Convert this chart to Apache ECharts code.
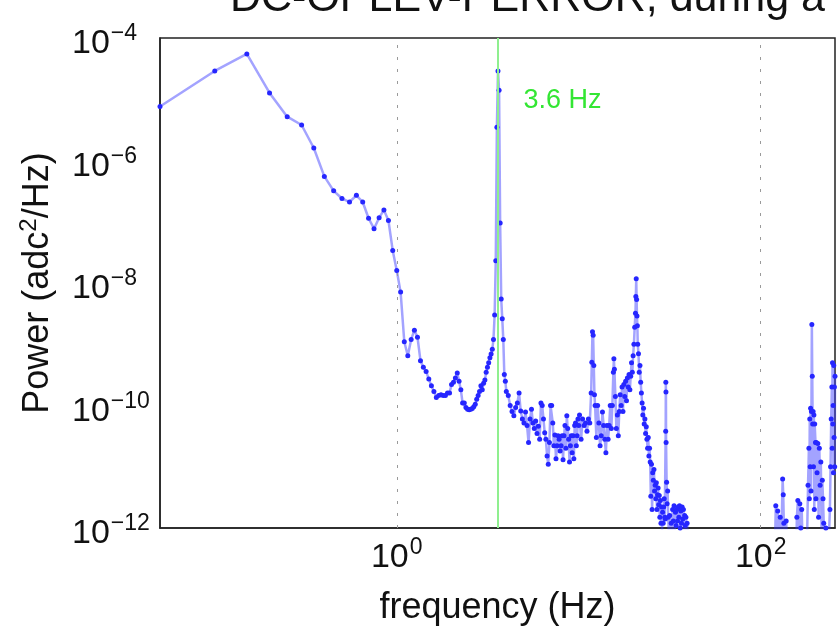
<!DOCTYPE html>
<html><head><meta charset="utf-8">
<script src="https://cdn.jsdelivr.net/npm/echarts@6/dist/echarts.min.js"></script>
<style>html,body{margin:0;padding:0;background:#fff}#c{width:838px;height:633px}</style>
</head><body><div id="c"></div>
<script>
const FONT = '"Liberation Sans", Arial, Helvetica, sans-serif';
const titleText = 'DC-OPLEV-PERROR, during a';
const xName = 'frequency (Hz)';
const yName = '{a|Power (adc}{s|2}{a|/Hz)}';
const peakFreq = 3.6;
const peakLabel = '3.6 Hz';
const xLabelExps = [0, 2];
const yLabelExps = [-12, -10, -8, -6, -4];
const xGrid = [1, 100];
const yGrid = [1e-10, 1e-8, 1e-6];

// 0.05 - 4.00 Hz
const seg1F = [0.05,0.10,0.15,0.20,0.25,0.30,0.35,0.40,0.45,0.50,
  0.55,0.60,0.65,0.70,0.75,0.80,0.85,0.90,0.95,1.00,
  1.05,1.10,1.15,1.20,1.25,1.30,1.35,1.40,1.45,1.50,
  1.55,1.60,1.65,1.70,1.75,1.80,1.85,1.90,1.95,2.00,
  2.05,2.10,2.15,2.20,2.25,2.30,2.35,2.40,2.45,2.50,
  2.55,2.60,2.65,2.70,2.75,2.80,2.85,2.90,2.95,3.00,
  3.05,3.10,3.15,3.20,3.25,3.30,3.35,3.40,3.45,3.50,
  3.55,3.60,3.65,3.70,3.75,3.80,3.85,3.90,3.95,4.00];
const seg1P = [7.6e-6,2.9e-5,5.5e-5,1.27e-5,5.2e-6,3.8e-6,1.6e-6,5.5e-7,3.2e-7,2.4e-7,
  2.1e-7,2.7e-7,2.1e-7,1.14e-7,7.7e-8,1.16e-7,1.56e-7,1.05e-7,3.4e-8,1.6e-8,
  7.1e-9,1.1e-9,6.5e-10,1.2e-9,1.7e-9,1.3e-9,5.4e-10,4.2e-10,3.6e-10,2.7e-10,
  2.1e-10,1.7e-10,1.35e-10,1.45e-10,1.5e-10,1.45e-10,1.45e-10,1.6e-10,1.6e-10,2.2e-10,
  2.4e-10,2.8e-10,3.4e-10,2.5e-10,1.8e-10,1.1e-10,1.1e-10,9.3e-11,8.7e-11,8.5e-11,
  8.7e-11,8.9e-11,9.5e-11,1.05e-10,1.26e-10,1.45e-10,1.7e-10,2.1e-10,1.8e-10,2.3e-10,
  2.6e-10,3.5e-10,4.2e-10,5.0e-10,6.0e-10,6.9e-10,8.3e-10,1.2e-9,3.0e-9,2.3e-8,
  3.5e-6,2.9e-5,1.4e-5,9.5e-8,5.5e-9,2.6e-9,1.2e-9,3.2e-10,2.5e-10,1.7e-10];

// 4.1 - 10.0 Hz
const seg2F = [4.1,4.2,4.3,4.4,4.5,4.6,4.7,4.8,4.9,5.0,
  5.1,5.2,5.3,5.4,5.5,5.6,5.7,5.8,5.9,6.0,
  6.1,6.2,6.3,6.4,6.5,6.6,6.7,6.8,6.9,7.0,
  7.1,7.2,7.3,7.4,7.5,7.6,7.7,7.8,7.9,8.0,
  8.1,8.2,8.3,8.4,8.5,8.6,8.7,8.8,8.9,9.0,
  9.1,9.2,9.3,9.4,9.5,9.6,9.7,9.8,9.9,10.0];
const seg2P = [1.45e-10,1.0e-10,8e-11,6.8e-11,9.3e-11,1.1e-10,1.6e-10,8.1e-11,6e-11,5.2e-11,
  7.8e-11,4.7e-11,2.5e-11,6e-11,8.7e-11,5.2e-11,4.2e-11,5.6e-11,3.5e-11,4.6e-11,
  2.8e-11,1.1e-10,1e-10,6e-11,3.6e-11,2.8e-11,1.5e-11,1.1e-11,2.5e-11,1e-10,
  1e-10,5.2e-11,2.2e-11,3.3e-11,1.35e-11,2.2e-11,3.2e-11,2.8e-11,1.8e-11,2.2e-11,
  3.2e-11,1.3e-11,3.2e-11,4.7e-11,2.0e-11,6.8e-11,4.2e-11,2.8e-11,1.2e-11,2.2e-11,
  3.2e-11,1.7e-11,3.2e-11,1.35e-11,4.7e-11,5.2e-11,2.2e-11,3.2e-11,6e-11,4.7e-11];

// 10.1 - 21.9 Hz
const seg3F = [10.1,10.3,10.5,10.7,10.9,
  11.1,11.3,11.5,11.7,11.8,11.9,
  12.0,12.1,12.2,12.3,12.5,12.7,12.9,
  13.1,13.3,13.5,13.7,13.9,
  14.1,14.3,14.5,14.7,14.9,
  15.1,15.3,15.5,15.6,15.7,15.9,
  16.1,16.3,16.5,16.7,16.9,
  17.1,17.3,17.5,17.7,17.9,
  18.1,18.3,18.5,18.7,18.9,
  19.1,19.3,19.5,19.7,19.9,
  20.1,20.3,20.5,20.6,20.7,20.8,20.9,
  21.0,21.1,21.3,21.5,21.7,21.9];
const seg3P = [7e-11,2.8e-11,6e-11,4.7e-11,5.2e-11,
  3.8e-11,6e-11,5.2e-11,1.6e-10,5.1e-10,1.6e-9,
  1.4e-9,4.5e-10,1.5e-10,1e-10,3e-11,1e-10,5.2e-11,
  2.2e-11,3.2e-11,7.8e-11,4.7e-11,2.8e-11,
  1.7e-11,4.7e-11,2.8e-11,4.7e-11,1e-10,
  4.2e-11,1.0e-10,3.5e-10,5.8e-10,3.9e-10,1.4e-10,
  4.2e-11,7e-11,3.2e-11,8e-11,1.5e-10,
  1.0e-10,2.0e-10,8e-11,2.2e-10,1.4e-10,
  2.5e-10,1.2e-10,2.8e-10,2.0e-10,3.2e-10,
  1.8e-10,3.0e-10,5.0e-10,3.5e-10,6.5e-10,
  1e-9,1.9e-9,3.2e-9,6e-9,1.17e-8,5.4e-9,2.9e-9,
  2e-9,1e-9,7e-10,3.5e-10,4.5e-10,2.4e-10];

// 22.1 - 42 Hz
const seg4F = [22.1,22.3,22.5,22.7,22.9,
  23.1,23.3,23.5,23.7,23.9,
  24.1,24.3,24.5,24.7,24.9,
  25.1,25.3,25.5,25.7,25.9,
  26.1,26.3,26.5,26.7,26.9,
  27.1,27.3,27.5,27.7,27.9,
  28.1,28.3,28.5,28.7,28.9,
  29.1,29.3,29.5,29.7,29.9,
  30.05,30.1,30.15,30.2,30.4,30.6,30.8,
  31.0,31.3,31.6,31.9,
  32.2,32.5,32.8,
  33.1,33.4,33.7,
  34.0,34.3,34.6,34.9,
  35.2,35.5,35.8,
  36.1,36.4,36.7,
  37.0,37.3,37.6,37.9,
  38.2,38.5,38.8,
  39.1,39.4,
  40.0,42.0];
const seg4P = [1.6e-10,1.1e-10,7e-11,9e-11,5e-11,
  6e-11,3.5e-11,4.5e-11,2.8e-11,2e-11,
  3e-11,1.5e-11,2e-11,1.2e-11,3.3e-12,
  1.1e-11,2e-12,8e-12,6e-12,9e-12,
  4e-12,5e-12,3e-12,5.5e-12,2e-12,
  3.5e-12,4.5e-12,2.4e-12,3.4e-12,1.5e-12,
  2.8e-12,1.2e-12,2.2e-12,9e-13,1.8e-12,
  1.2e-12,2.2e-12,3e-12,1.5e-12,1.4e-12,
  3.8e-11,2.4e-10,1.66e-10,2.5e-11,5.6e-12,2.5e-12,4e-12,
  1.5e-12,8e-13,1.6e-12,7e-13,
  1.2e-12,6e-13,2e-12,
  1.3e-12,2.3e-12,9e-13,
  1.8e-12,1.1e-12,2e-12,1.3e-12,
  2.2e-12,1.5e-12,2.3e-12,
  1e-12,1.9e-12,1.2e-12,
  2.2e-12,1.4e-12,2e-12,8e-13,
  1.6e-12,1.1e-12,1.5e-12,
  7e-13,1.2e-12,
  6e-13,3e-13];

// 50 - 256 Hz
const seg5F = [50,70,100,115,120,
  121,122,124,126,128,130,
  132,133,134,136,138,140,
  150,157,158,160,162,164,166,168,170,175,
  180,182,184,185,186,187,188,189,190,
  191,192,193,194,195,196,197,198,
  200,201,202,204,206,208,210,212,214,216,218,220,222,
  225,228,232,236,240,242,244,246,247,248,249,250,251,252,253,254,255,256];
const seg5P = [2e-13,1.5e-13,1.5e-13,3e-13,6e-13,
  2.3e-12,5e-13,1.9e-12,6e-13,1.5e-12,8e-13,
  6.3e-12,3.5e-12,1.2e-12,7e-13,1.3e-12,4e-13,
  2e-13,5e-13,1.5e-12,2.8e-12,6e-13,2.5e-12,1e-12,2e-12,5e-13,3e-13,
  8e-13,5e-12,2e-11,3e-12,6e-11,1e-11,9e-11,4e-12,8e-11,
  2.1e-9,3e-10,5e-11,8e-11,1e-11,7e-11,2e-12,5e-11,
  2.5e-11,3e-12,2.5e-11,8e-12,2.4e-11,1.5e-12,2e-11,5e-12,1.2e-11,8e-13,6e-12,3e-12,1.2e-12,
  5e-13,1e-12,4e-13,5e-13,2e-12,1e-11,6e-11,2e-10,2e-11,5e-10,5e-11,1e-10,8e-12,4.5e-10,3e-11,2e-10,1e-11,3e-10];

const freqHz = [].concat(seg1F, seg2F, seg3F, seg4F, seg5F);
const powerAdc2 = [].concat(seg1P, seg2P, seg3P, seg4P, seg5P);
const spectrum = freqHz.map((f, i) => [f, powerAdc2[i]]).filter(d => d[1] != null);

function expLabel(v, allowed) {
  const l = Math.log10(v);
  const e = Math.round(l);
  if (Math.abs(l - e) > 1e-6 || allowed.indexOf(e) < 0) return '';
  return '{b|10}{e|' + (e < 0 ? '\u2212' + (-e) : String(e)) + '}';
}
const labelRich = {
  b: { fontSize: 34, fontFamily: FONT, color: '#111' },
  e: { fontSize: 23, fontFamily: FONT, color: '#111', padding: [0, 0, 20, 1] }
};

const chart = echarts.init(document.getElementById('c'), null, { renderer: 'canvas' });
chart.setOption({
  animation: false,
  backgroundColor: '#fff',
  grid: { left: 160, top: 38, right: 3, bottom: 105, show: true, borderColor: '#222', borderWidth: 1.5, backgroundColor: '#fff' },
  graphic: [{
    type: 'text', left: 230, top: -22,
    style: { text: titleText, font: '43px ' + FONT, fill: '#111' }
  }],
  xAxis: {
    type: 'log', logBase: 10, min: 0.05, max: 256,
    axisLine: { show: true, lineStyle: { color: '#222', width: 1.5 } },
    axisTick: { show: false }, splitLine: { show: false },
    axisLabel: { margin: 8, formatter: v => expLabel(v, xLabelExps), rich: labelRich, showMinLabel: false, showMaxLabel: false },
    name: xName, nameLocation: 'middle', nameGap: 62,
    nameTextStyle: { fontSize: 36, fontFamily: FONT, color: '#111' }
  },
  yAxis: {
    type: 'log', logBase: 10, min: 1e-12, max: 1e-4,
    axisLine: { show: true, lineStyle: { color: '#222', width: 1.5 } },
    axisTick: { show: false }, splitLine: { show: false },
    axisLabel: { align: 'left', margin: 88, padding: [12, 0, 0, 0], formatter: v => expLabel(v, yLabelExps), rich: labelRich },
    name: yName, nameLocation: 'middle', nameGap: 101,
    nameTextStyle: { color: '#111', rich: {
      a: { fontSize: 36, fontFamily: FONT, color: '#111' },
      s: { fontSize: 24, fontFamily: FONT, color: '#111', padding: [0, 0, 18, 0] }
    } }
  },
  series: [
    {
      type: 'line', data: [], silent: true, z: 1,
      markLine: {
        silent: true, symbol: ['none', 'none'], animation: false,
        label: { show: false },
        lineStyle: { color: '#9a9a9a', type: [3, 9], width: 1 },
        data: xGrid.map(x => ({ xAxis: x })).concat(yGrid.map(y => ({ yAxis: y })))
      }
    },
    {
      type: 'line', data: [], silent: true, z: 2,
      markLine: {
        silent: true, symbol: ['none', 'none'], animation: false,
        label: { show: false },
        lineStyle: { color: '#8fef8f', type: 'solid', width: 2 },
        data: [{ xAxis: peakFreq }]
      },
      markPoint: {
        silent: true, animation: false, symbol: 'circle', symbolSize: 1,
        itemStyle: { color: 'rgba(0,0,0,0)' },
        label: { show: true, position: 'right', distance: 25, formatter: peakLabel,
          color: '#33e633', fontSize: 27, fontFamily: FONT },
        data: [{ coord: [peakFreq, 9.4e-6] }]
      }
    },
    {
      type: 'line', data: spectrum, z: 3, clip: true,
      symbol: 'circle', symbolSize: 5, showSymbol: true, showAllSymbol: true,
      itemStyle: { color: '#2626ff' },
      lineStyle: { color: 'rgba(50,50,255,0.45)', width: 2.5 }
    }
  ]
});
</script>
</body></html>
